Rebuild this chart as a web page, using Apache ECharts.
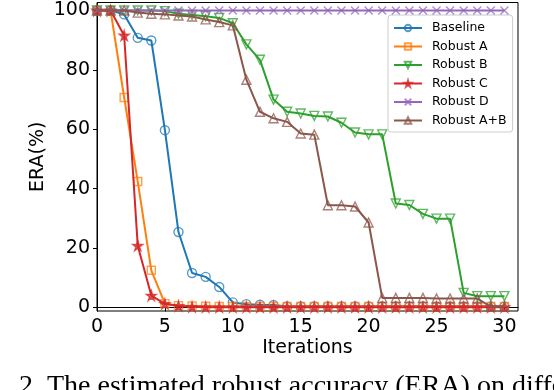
<!DOCTYPE html>
<html><head><meta charset="utf-8">
<script src="https://cdn.jsdelivr.net/npm/echarts@6/dist/echarts.min.js"></script>
<style>html,body{margin:0;padding:0;background:#fff}#c{width:554px;height:390px}</style>
</head><body><div id="c"></div>
<script>
const iterations = Array.from({length:31},(_,i)=>i);
const xTicks = [0,5,10,15,20,25,30];
const yTicks = [0,20,40,60,80,100];
const baseline = [100,100,98.7,90.8,89.9,59.7,25.4,11.6,10.3,6.9,1.7,1.1,0.9,0.8,0.3,0.3,0.3,0.3,0.3,0.3,0.3,0.3,0.3,0.3,0.3,0.3,0.3,0.3,0.3,0.3,0.3];
const robustA = [100,100,70.7,42.4,12.5,1.3,0.6,0.5,0.4,0.3,0.3,0.3,0.3,0.3,0.3,0.3,0.3,0.3,0.3,0.3,0.3,0.3,0.3,0.3,0.3,0.3,0.3,0.3,0.3,0.3,0.3];
const robustB = [100,100,100,100,100,99.8,98.9,98.5,98.1,97.5,95.7,88.6,83.4,70.0,65.9,65.3,64.5,64.3,62.2,58.9,58.3,58.3,35.0,34.5,31.5,29.9,29.9,4.9,3.8,3.8,3.8];
const robustC = [100,100,91.6,20.8,4.0,1.2,0.5,0.2,0.1,0.1,0.1,0.1,0.1,0.1,0.1,0.1,0.1,0.1,0.1,0.1,0.1,0.1,0.1,0.1,0.1,0.1,0.1,0.1,0.1,0.1,0.1];
const robustD = [100,100,100,100,100,100,100,100,100,100,100,100,100,100,100,100,100,100,100,100,100,100,100,100,100,100,100,100,100,100,100];
const robustAB = [100,100,100,99.3,98.9,98.7,98.3,98.0,97.0,96.1,95.0,76.7,65.9,63.7,62.5,58.6,58.2,34.4,34.4,34.0,28.6,3.2,3.2,3.2,3.2,3.0,3.0,3.0,3.0,0.3,0.3];
const names = ['Baseline','Robust A','Robust B','Robust C','Robust D','Robust A+B'];
const colors = ['#1f77b4','#ff7f0e','#2ca02c','#d62728','#9467bd','#8c564b'];
const seriesData = [baseline, robustA, robustB, robustC, robustD, robustAB];

const STAR = 'path://M50,0L61.8,36.2L100,36.2L69.1,58.6L80.9,95.1L50,72.7L19.1,95.1L30.9,58.6L0,36.2L38.2,36.2Z';
const XMARK = 'path://M0,0L10,10M10,0L0,10';
const DTRI = 'path://M0,0L10,0L5,8.66Z';
const symbols = ['circle','rect',DTRI,STAR,XMARK,'triangle'];
const sizes = [9,8,9,10,8,9];
const hollow = [true,true,true,false,true,true];

const font = 'DejaVu Sans';
const series = names.map((n,i)=>({
  name:n, type:'line',
  data: iterations.map((x,j)=>[x, seriesData[i][j]]),
  symbol: symbols[i], symbolSize: sizes[i], showAllSymbol:true,
  clip:false,
  lineStyle:{color:colors[i], width:2},
  itemStyle:{color: hollow[i] ? 'rgba(255,255,255,0)' : colors[i], borderColor: colors[i], borderWidth: 1.4, opacity:0.75},
  emphasis:{disabled:true},
  z: 2+i
}));

const chart = echarts.init(document.getElementById('c'), null, {renderer:'canvas'});
chart.setOption({
  animation:false,
  backgroundColor:'#fff',
  grid:{left:97, right:36, top:2.5, bottom:79, show:true, borderColor:'#000', borderWidth:1, backgroundColor:'transparent'},
  xAxis:{type:'value', min:0, max:31,
    name:'Iterations', nameLocation:'middle', nameGap:28, nameMoveOverlap:false,
    nameTextStyle:{fontFamily:font, fontSize:19, color:'#000'},
    axisLine:{show:true, lineStyle:{color:'#000', width:1}},
    axisTick:{show:true, length:4, lineStyle:{color:'#000'}, customValues:xTicks},
    axisLabel:{fontFamily:font, fontSize:19, color:'#000', margin:7, customValues:xTicks},
    splitLine:{show:false}},
  yAxis:{type:'value', min:-1.2, max:102.7,
    name:'ERA(%)', nameLocation:'middle', nameGap:49, nameMoveOverlap:false,
    nameTextStyle:{fontFamily:font, fontSize:19, color:'#000'},
    axisLine:{show:true, lineStyle:{color:'#000', width:1}},
    axisTick:{show:true, length:4, lineStyle:{color:'#000'}, customValues:yTicks},
    axisLabel:{fontFamily:font, fontSize:19, color:'#000', margin:7, customValues:yTicks},
    splitLine:{show:false}},
  legend:{orient:'vertical', left:388, top:15, data:names,
    itemWidth:28, itemHeight:8, itemGap:5.5,
    padding:[6.5,6,5,5],
    backgroundColor:'rgba(255,255,255,0.85)', borderColor:'#ccc', borderWidth:1, borderRadius:3,
    textStyle:{fontFamily:font, fontSize:12.5, color:'#000', padding:[0,0,0,5]}},
  graphic:[{type:'text', left:19, top:373, style:{text:'2. The estimated robust accuracy (ERA) on different', font:'28px "Liberation Serif"', fill:'#000'}}],
  series: series
});
</script></body></html>
